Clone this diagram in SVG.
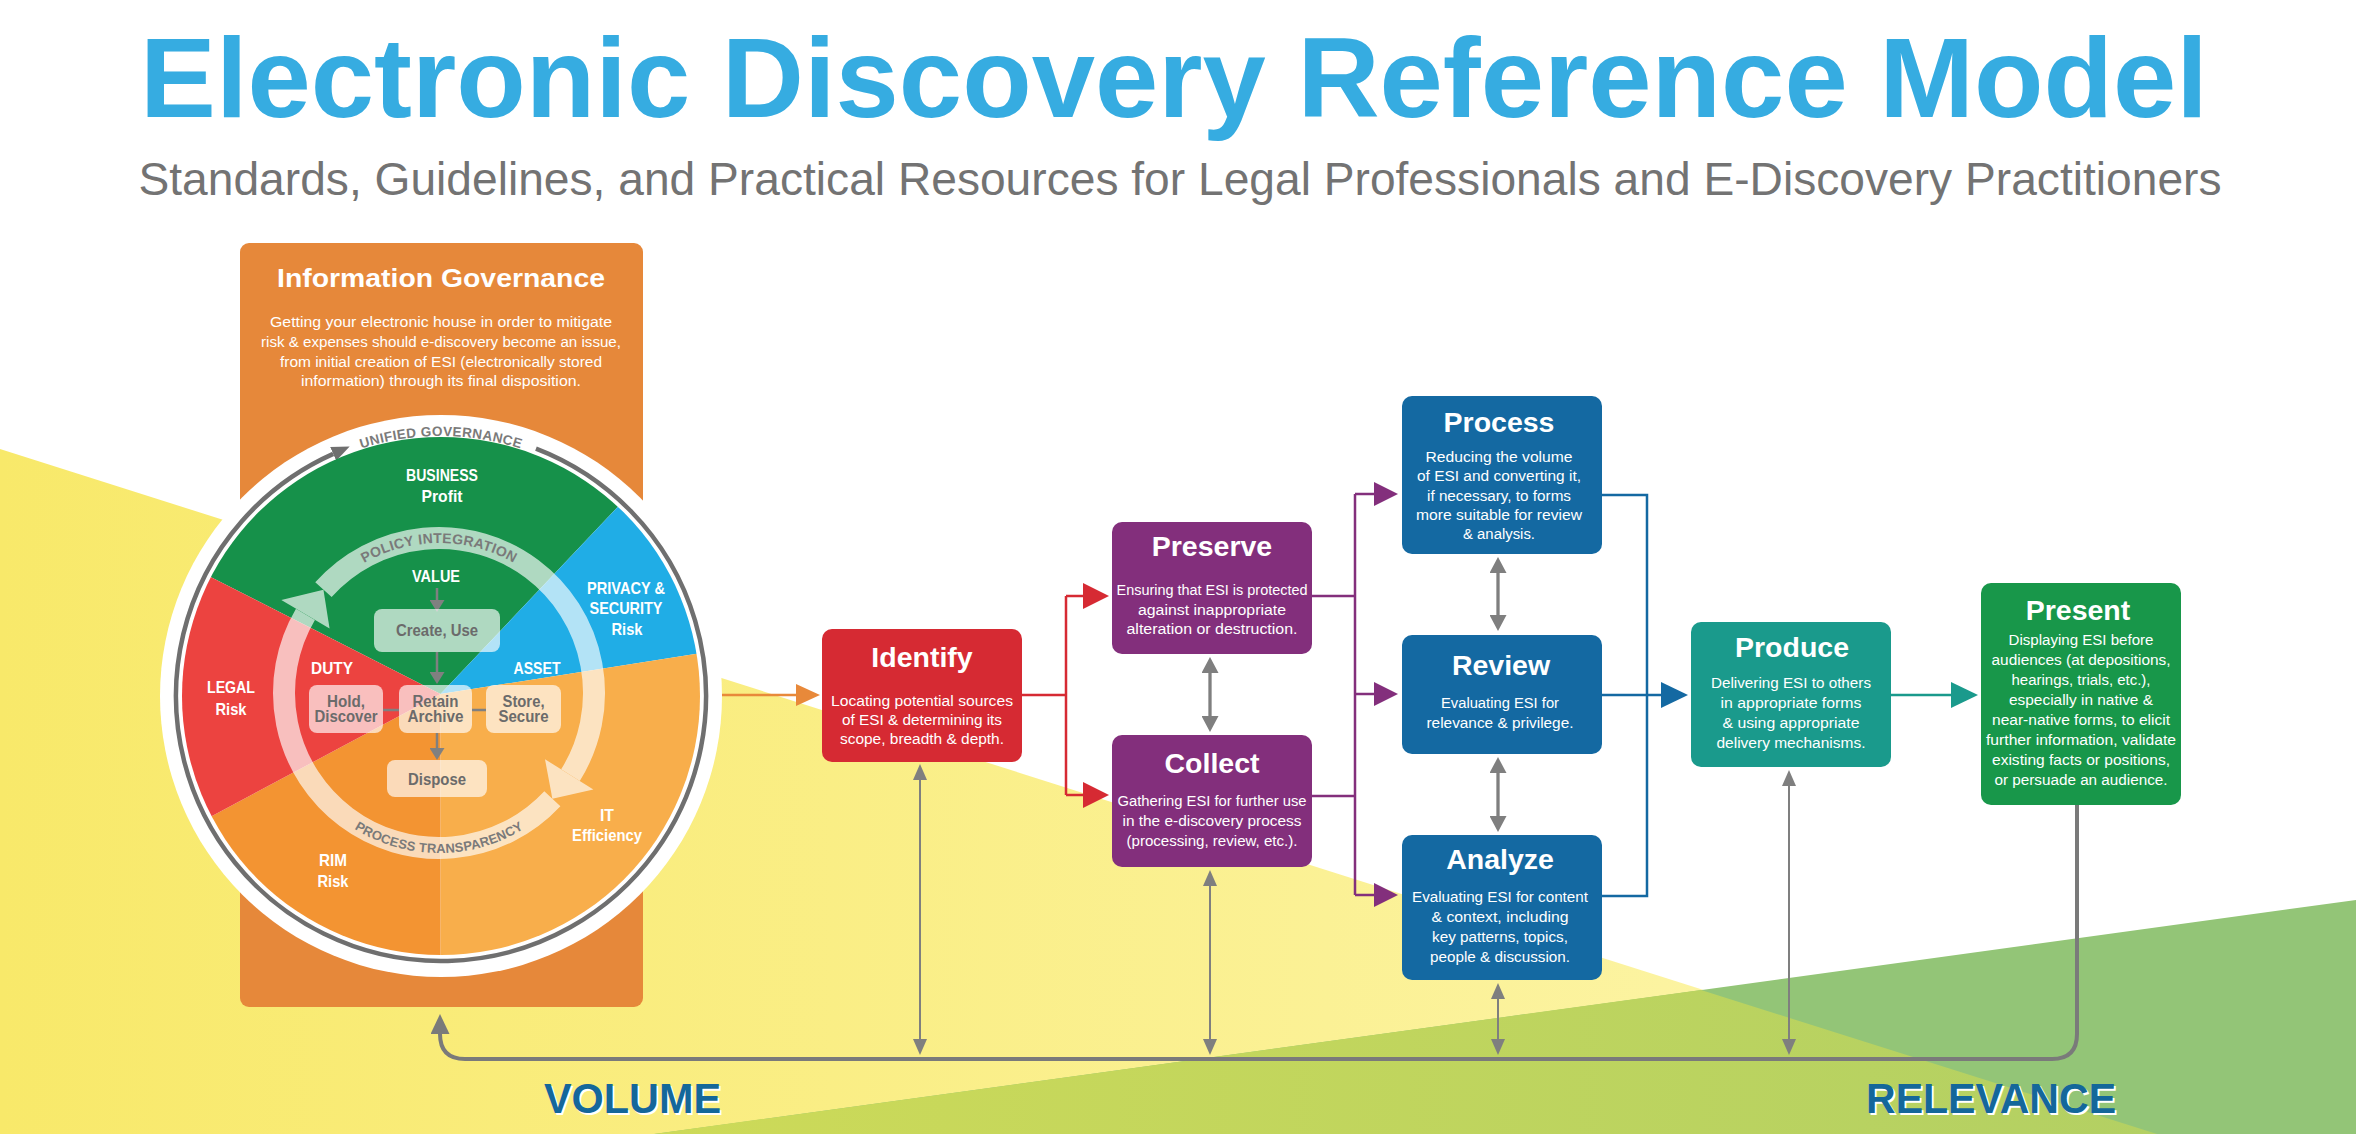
<svg xmlns="http://www.w3.org/2000/svg" width="2356" height="1134" viewBox="0 0 2356 1134">
<style>
text { font-family: "Liberation Sans", Arial, sans-serif; }
.ttl { font-weight: bold; font-size: 28.5px; fill: #fff; text-anchor: middle; }
.desc { font-size: 15.5px; fill: #fff; text-anchor: middle; }
.lbl { font-weight: bold; font-size: 16.5px; fill: #fff; text-anchor: middle; }
.in { font-weight: bold; font-size: 16px; fill: #6b6b6b; text-anchor: middle; }
.ib { fill: #fff; fill-opacity: 0.66; }
.rt { font-weight: bold; fill: #7a7a7a; }
.cn { fill: none; stroke-width: 2.5; }
.gthin { fill: none; stroke: #7f7f7f; stroke-width: 2; marker-start: url(#mGthin); marker-end: url(#mGthin); }
.gmid { fill: none; stroke: #7f7f7f; stroke-width: 3.3; marker-start: url(#mGmid); marker-end: url(#mGmid); }
.gin { fill: none; stroke: #808080; stroke-width: 2.5; }
.big { font-weight: bold; font-size: 42px; text-anchor: middle; }
</style>
<defs>
  <linearGradient id="gYel" gradientUnits="userSpaceOnUse" x1="0" y1="0" x2="2157" y2="0">
    <stop offset="0" stop-color="#F8E96A"/>
    <stop offset="1" stop-color="#FDF6B0"/>
  </linearGradient>
  <linearGradient id="gYG" gradientUnits="userSpaceOnUse" x1="654" y1="0" x2="2157" y2="0">
    <stop offset="0" stop-color="#CDDA58"/>
    <stop offset="1" stop-color="#B3D063"/>
  </linearGradient>
  <clipPath id="cPie"><circle cx="441" cy="696" r="259"/></clipPath>
  <path id="pUG" d="M291.87,483.02 A260,260 0 0 1 590.13,483.02"/>
  <path id="pPI" d="M298.05,641.70 A150,150 0 0 1 579.95,641.70"/>
  <path id="pPT" d="M288.65,747.72 A160,160 0 0 0 589.35,747.72"/>
  <marker id="mRed" markerUnits="userSpaceOnUse" viewBox="0 0 26 26" markerWidth="26" markerHeight="26" refX="0" refY="13" orient="auto"><path d="M0,0L26,13L0,26z" fill="#D62A33"/></marker>
  <marker id="mPur" markerUnits="userSpaceOnUse" viewBox="0 0 24 24" markerWidth="24" markerHeight="24" refX="0" refY="12" orient="auto"><path d="M0,0L24,12L0,24z" fill="#832F7C"/></marker>
  <marker id="mBlue" markerUnits="userSpaceOnUse" viewBox="0 0 27 26" markerWidth="27" markerHeight="26" refX="0" refY="13" orient="auto"><path d="M0,0L27,13L0,26z" fill="#1469A2"/></marker>
  <marker id="mTeal" markerUnits="userSpaceOnUse" viewBox="0 0 27 26" markerWidth="27" markerHeight="26" refX="0" refY="13" orient="auto"><path d="M0,0L27,13L0,26z" fill="#1A9A8C"/></marker>
  <marker id="mOrg" markerUnits="userSpaceOnUse" viewBox="0 0 24 22" markerWidth="24" markerHeight="22" refX="0" refY="11" orient="auto"><path d="M0,0L24,11L0,22z" fill="#E8893A"/></marker>
  <marker id="mGthin" markerUnits="userSpaceOnUse" viewBox="0 0 16 14" markerWidth="16" markerHeight="14" refX="0" refY="7" orient="auto-start-reverse"><path d="M0,0L16,7L0,14z" fill="#7f7f7f"/></marker>
  <marker id="mGmid" markerUnits="userSpaceOnUse" viewBox="0 0 16 17" markerWidth="16" markerHeight="17" refX="0" refY="8.5" orient="auto-start-reverse"><path d="M0,0L16,8.5L0,17z" fill="#7f7f7f"/></marker>
  <marker id="mGloop" markerUnits="userSpaceOnUse" viewBox="0 0 20 19" markerWidth="20" markerHeight="19" refX="0" refY="9.5" orient="auto"><path d="M0,0L20,9.5L0,19z" fill="#7a7a7a"/></marker>
  <marker id="mGring" markerUnits="userSpaceOnUse" viewBox="0 0 18 15" markerWidth="18" markerHeight="15" refX="0" refY="7.5" orient="auto"><path d="M0,0L18,7.5L0,15z" fill="#6f6f6f"/></marker>
  <marker id="mGin" markerUnits="userSpaceOnUse" viewBox="0 0 12 15" markerWidth="12" markerHeight="15" refX="0" refY="7.5" orient="auto"><path d="M0,0L12,7.5L0,15z" fill="#808080"/></marker>
</defs>

<!-- background -->
<g id="background">
  <rect x="0" y="0" width="2356" height="1134" fill="#fff"/>
  <polygon points="0,449 2157,1134 0,1134" fill="url(#gYel)"/>
  <polygon points="654,1134 2356,900 2356,1134" fill="#93C577"/>
  <polygon points="654,1134 1701,990 2157,1134" fill="url(#gYG)"/>
</g>

<g id="header">
  <text x="1174" y="117" font-size="114" font-weight="bold" fill="#36ACE1" text-anchor="middle" textLength="2068" lengthAdjust="spacingAndGlyphs">Electronic Discovery Reference Model</text>
  <text x="1180" y="195" font-size="46" fill="#737373" text-anchor="middle" textLength="2083" lengthAdjust="spacingAndGlyphs">Standards, Guidelines, and Practical Resources for Legal Professionals and E-Discovery Practitioners</text>
</g>

<!-- Information Governance node -->
<g id="information-governance">
  <rect x="240" y="243" width="403" height="764" rx="9" fill="#E6883A"/>
  <text x="441" y="287" font-size="25" font-weight="bold" fill="#fff" text-anchor="middle" textLength="328" lengthAdjust="spacingAndGlyphs">Information Governance</text>
  <text class="desc" x="441" y="327" textLength="342" lengthAdjust="spacingAndGlyphs">Getting your electronic house in order to mitigate</text>
  <text class="desc" x="441" y="347" textLength="360" lengthAdjust="spacingAndGlyphs">risk &amp; expenses should e-discovery become an issue,</text>
  <text class="desc" x="441" y="367" textLength="322" lengthAdjust="spacingAndGlyphs">from initial creation of ESI (electronically stored</text>
  <text class="desc" x="441" y="386" textLength="280" lengthAdjust="spacingAndGlyphs">information) through its final disposition.</text>

  <circle cx="441" cy="696" r="281" fill="#fff"/>
  <path d="M535.97,448.60 A265,265 0 1 1 333.21,453.91" fill="none" stroke="#6f6f6f" stroke-width="4.5" marker-end="url(#mGring)"/>
  <text class="rt" font-size="13.5" letter-spacing="0.4" text-anchor="middle" fill="#6d6d6d"><textPath href="#pUG" startOffset="50%">UNIFIED GOVERNANCE</textPath></text>

  <g clip-path="url(#cPie)">
    <polygon points="440.5,694 83.6,512.4 83.6,400 715.4,400 715.4,403.8" fill="#16914A"/>
    <polygon points="440.5,694 715.4,403.8 835,403.8 835.2,632.1" fill="#20ADE6"/>
    <polygon points="440.5,694 835.2,632.1 835,1100 440.5,1100" fill="#F8AE4B"/>
    <polygon points="440.5,694 440.5,1100 80,1100 87.2,882.6" fill="#F39432"/>
    <polygon points="440.5,694 87.2,882.6 83.6,512.4" fill="#EC4340"/>
  </g>

  <g opacity="0.66" fill="#fff">
    <path d="M552.36,798.71 A155,155 0 0 1 305.45,614.33" fill="none" stroke="#fff" stroke-width="22"/>
    <path d="M323.45,589.69 A155,155 0 0 1 570.45,775.14" fill="none" stroke="#fff" stroke-width="22"/>
    <polygon points="281.32,600.12 329.57,628.54 323.45,589.69"/>
    <polygon points="593.35,789.45 545.01,759.24 552.36,798.71"/>
  </g>
  <text class="rt" font-size="14" letter-spacing="0.3" text-anchor="middle"><textPath href="#pPI" startOffset="50%">POLICY INTEGRATION</textPath></text>
  <text class="rt" font-size="13" letter-spacing="0.2" text-anchor="middle"><textPath href="#pPT" startOffset="50%">PROCESS TRANSPARENCY</textPath></text>

  <text class="lbl" x="442" y="481" textLength="72" lengthAdjust="spacingAndGlyphs">BUSINESS</text>
  <text class="lbl" x="442" y="502" textLength="41" lengthAdjust="spacingAndGlyphs">Profit</text>
  <text class="lbl" x="626" y="594" textLength="78" lengthAdjust="spacingAndGlyphs">PRIVACY &amp;</text>
  <text class="lbl" x="626" y="614" textLength="73" lengthAdjust="spacingAndGlyphs">SECURITY</text>
  <text class="lbl" x="627" y="635" textLength="31" lengthAdjust="spacingAndGlyphs">Risk</text>
  <text class="lbl" x="231" y="693" textLength="48" lengthAdjust="spacingAndGlyphs">LEGAL</text>
  <text class="lbl" x="231" y="715" textLength="31" lengthAdjust="spacingAndGlyphs">Risk</text>
  <text class="lbl" x="607" y="821" textLength="14" lengthAdjust="spacingAndGlyphs">IT</text>
  <text class="lbl" x="607" y="841" textLength="70" lengthAdjust="spacingAndGlyphs">Efficiency</text>
  <text class="lbl" x="333" y="866" textLength="28" lengthAdjust="spacingAndGlyphs">RIM</text>
  <text class="lbl" x="333" y="887" textLength="31" lengthAdjust="spacingAndGlyphs">Risk</text>
  <text class="lbl" x="436" y="582" textLength="48" lengthAdjust="spacingAndGlyphs">VALUE</text>
  <text class="lbl" x="332" y="674" textLength="42" lengthAdjust="spacingAndGlyphs">DUTY</text>
  <text class="lbl" x="537" y="674" textLength="47" lengthAdjust="spacingAndGlyphs">ASSET</text>

  <path class="gin" d="M437,588 V600" marker-end="url(#mGin)"/>
  <path class="gin" d="M437,652 V672" marker-end="url(#mGin)"/>
  <path class="gin" d="M437,733 V748" marker-end="url(#mGin)"/>
  <path class="gin" d="M383,710 H399 M472,710 H486"/>

  <rect class="ib" x="374" y="609" width="126" height="43" rx="8"/>
  <rect class="ib" x="309" y="685" width="74" height="48" rx="8"/>
  <rect class="ib" x="399" y="685" width="73" height="48" rx="8"/>
  <rect class="ib" x="486" y="685" width="75" height="48" rx="8"/>
  <rect class="ib" x="387" y="760" width="100" height="37" rx="8"/>
  <text class="in" x="437" y="636" textLength="82" lengthAdjust="spacingAndGlyphs">Create, Use</text>
  <text class="in" x="346" y="707" textLength="38" lengthAdjust="spacingAndGlyphs">Hold,</text>
  <text class="in" x="346" y="722" textLength="63" lengthAdjust="spacingAndGlyphs">Discover</text>
  <text class="in" x="435.5" y="707" textLength="46" lengthAdjust="spacingAndGlyphs">Retain</text>
  <text class="in" x="435.5" y="722" textLength="56" lengthAdjust="spacingAndGlyphs">Archive</text>
  <text class="in" x="523.5" y="707" textLength="42" lengthAdjust="spacingAndGlyphs">Store,</text>
  <text class="in" x="523.5" y="722" textLength="50" lengthAdjust="spacingAndGlyphs">Secure</text>
  <text class="in" x="437" y="785" textLength="58" lengthAdjust="spacingAndGlyphs">Dispose</text>
</g>

<!-- connectors -->
<g id="connectors">
  <path class="cn" stroke="#E8893A" d="M722,695 H796" marker-end="url(#mOrg)"/>
  <path class="cn" stroke="#D62A33" d="M1022,695 H1066 M1066,596 V795"/>
  <path class="cn" stroke="#D62A33" d="M1066,596 H1083" marker-end="url(#mRed)"/>
  <path class="cn" stroke="#D62A33" d="M1066,795 H1083" marker-end="url(#mRed)"/>
  <path class="cn" stroke="#832F7C" d="M1312,596 H1355 M1312,796 H1355 M1355,494 V895"/>
  <path class="cn" stroke="#832F7C" d="M1355,494 H1374" marker-end="url(#mPur)"/>
  <path class="cn" stroke="#832F7C" d="M1355,694 H1374" marker-end="url(#mPur)"/>
  <path class="cn" stroke="#832F7C" d="M1355,895 H1374" marker-end="url(#mPur)"/>
  <path class="cn" stroke="#1469A2" d="M1602,495 H1647 V896 H1602"/>
  <path class="cn" stroke="#1469A2" d="M1602,695 H1661" marker-end="url(#mBlue)"/>
  <path class="cn" stroke="#1A9A8C" d="M1891,695 H1951" marker-end="url(#mTeal)"/>
  <path class="gmid" d="M1210,673 V716"/>
  <path class="gmid" d="M1498,573 V615"/>
  <path class="gmid" d="M1498,773 V816"/>
  <path class="gthin" d="M920,780 V1039"/>
  <path class="gthin" d="M1210,886 V1039"/>
  <path class="gthin" d="M1498,999 V1039"/>
  <path class="gthin" d="M1789,786 V1039"/>
  <path d="M2077,805 V1034 Q2077,1059 2052,1059 H465 Q440,1059 440,1034" fill="none" stroke="#7a7a7a" stroke-width="4" marker-end="url(#mGloop)"/>
</g>

<g id="identify">
  <rect x="822" y="629" width="200" height="133" rx="10" fill="#D62A33"/>
  <text class="ttl" x="922" y="667">Identify</text>
  <text class="desc" x="922" y="706" textLength="182" lengthAdjust="spacingAndGlyphs">Locating potential sources</text>
  <text class="desc" x="922" y="725" textLength="160" lengthAdjust="spacingAndGlyphs">of ESI &amp; determining its</text>
  <text class="desc" x="922" y="744" textLength="164" lengthAdjust="spacingAndGlyphs">scope, breadth &amp; depth.</text>
</g>

<g id="preserve">
  <rect x="1112" y="522" width="200" height="132" rx="10" fill="#832F7C"/>
  <text class="ttl" x="1212" y="556">Preserve</text>
  <text class="desc" x="1212" y="595" textLength="191" lengthAdjust="spacingAndGlyphs">Ensuring that ESI is protected</text>
  <text class="desc" x="1212" y="615" textLength="148" lengthAdjust="spacingAndGlyphs">against inappropriate</text>
  <text class="desc" x="1212" y="634" textLength="171" lengthAdjust="spacingAndGlyphs">alteration or destruction.</text>
</g>

<g id="collect">
  <rect x="1112" y="735" width="200" height="132" rx="10" fill="#832F7C"/>
  <text class="ttl" x="1212" y="773">Collect</text>
  <text class="desc" x="1212" y="806" textLength="189" lengthAdjust="spacingAndGlyphs">Gathering ESI for further use</text>
  <text class="desc" x="1212" y="826" textLength="179" lengthAdjust="spacingAndGlyphs">in the e-discovery process</text>
  <text class="desc" x="1212" y="846" textLength="171" lengthAdjust="spacingAndGlyphs">(processing, review, etc.).</text>
</g>

<g id="process">
  <rect x="1402" y="396" width="200" height="158" rx="10" fill="#1469A2"/>
  <text class="ttl" x="1499" y="432">Process</text>
  <text class="desc" x="1499" y="462" textLength="147" lengthAdjust="spacingAndGlyphs">Reducing the volume</text>
  <text class="desc" x="1499" y="481" textLength="164" lengthAdjust="spacingAndGlyphs">of ESI and converting it,</text>
  <text class="desc" x="1499" y="501" textLength="144" lengthAdjust="spacingAndGlyphs">if necessary, to forms</text>
  <text class="desc" x="1499" y="520" textLength="166" lengthAdjust="spacingAndGlyphs">more suitable for review</text>
  <text class="desc" x="1499" y="539" textLength="72" lengthAdjust="spacingAndGlyphs">&amp; analysis.</text>
</g>

<g id="review">
  <rect x="1402" y="635" width="200" height="119" rx="10" fill="#1469A2"/>
  <text class="ttl" x="1501" y="675">Review</text>
  <text class="desc" x="1500" y="708" textLength="118" lengthAdjust="spacingAndGlyphs">Evaluating ESI for</text>
  <text class="desc" x="1500" y="728" textLength="147" lengthAdjust="spacingAndGlyphs">relevance &amp; privilege.</text>
</g>

<g id="analyze">
  <rect x="1402" y="835" width="200" height="145" rx="10" fill="#1469A2"/>
  <text class="ttl" x="1500" y="869">Analyze</text>
  <text class="desc" x="1500" y="902" textLength="176" lengthAdjust="spacingAndGlyphs">Evaluating ESI for content</text>
  <text class="desc" x="1500" y="922" textLength="137" lengthAdjust="spacingAndGlyphs">&amp; context, including</text>
  <text class="desc" x="1500" y="942" textLength="136" lengthAdjust="spacingAndGlyphs">key patterns, topics,</text>
  <text class="desc" x="1500" y="962" textLength="140" lengthAdjust="spacingAndGlyphs">people &amp; discussion.</text>
</g>

<g id="produce">
  <rect x="1691" y="622" width="200" height="145" rx="10" fill="#1A9A8C"/>
  <text class="ttl" x="1792" y="657">Produce</text>
  <text class="desc" x="1791" y="688" textLength="160" lengthAdjust="spacingAndGlyphs">Delivering ESI to others</text>
  <text class="desc" x="1791" y="708" textLength="141" lengthAdjust="spacingAndGlyphs">in appropriate forms</text>
  <text class="desc" x="1791" y="728" textLength="137" lengthAdjust="spacingAndGlyphs">&amp; using appropriate</text>
  <text class="desc" x="1791" y="748" textLength="149" lengthAdjust="spacingAndGlyphs">delivery mechanisms.</text>
</g>

<g id="present">
  <rect x="1981" y="583" width="200" height="222" rx="10" fill="#18974A"/>
  <text class="ttl" x="2078" y="620">Present</text>
  <text class="desc" x="2081" y="645" textLength="145" lengthAdjust="spacingAndGlyphs">Displaying ESI before</text>
  <text class="desc" x="2081" y="665" textLength="179" lengthAdjust="spacingAndGlyphs">audiences (at depositions,</text>
  <text class="desc" x="2081" y="685" textLength="139" lengthAdjust="spacingAndGlyphs">hearings, trials, etc.),</text>
  <text class="desc" x="2081" y="705" textLength="144" lengthAdjust="spacingAndGlyphs">especially in native &amp;</text>
  <text class="desc" x="2081" y="725" textLength="178" lengthAdjust="spacingAndGlyphs">near-native forms, to elicit</text>
  <text class="desc" x="2081" y="745" textLength="190" lengthAdjust="spacingAndGlyphs">further information, validate</text>
  <text class="desc" x="2081" y="765" textLength="178" lengthAdjust="spacingAndGlyphs">existing facts or positions,</text>
  <text class="desc" x="2081" y="785" textLength="173" lengthAdjust="spacingAndGlyphs">or persuade an audience.</text>
</g>

<g id="axis-labels">
  <text class="big" x="634.5" y="1115" fill="#fff" textLength="177" lengthAdjust="spacingAndGlyphs">VOLUME</text>
  <text class="big" x="632.5" y="1113" fill="#14679A" textLength="177" lengthAdjust="spacingAndGlyphs">VOLUME</text>
  <text class="big" x="1993" y="1115" fill="#fff" textLength="250" lengthAdjust="spacingAndGlyphs">RELEVANCE</text>
  <text class="big" x="1991" y="1113" fill="#14679A" textLength="250" lengthAdjust="spacingAndGlyphs">RELEVANCE</text>
</g>
</svg>
